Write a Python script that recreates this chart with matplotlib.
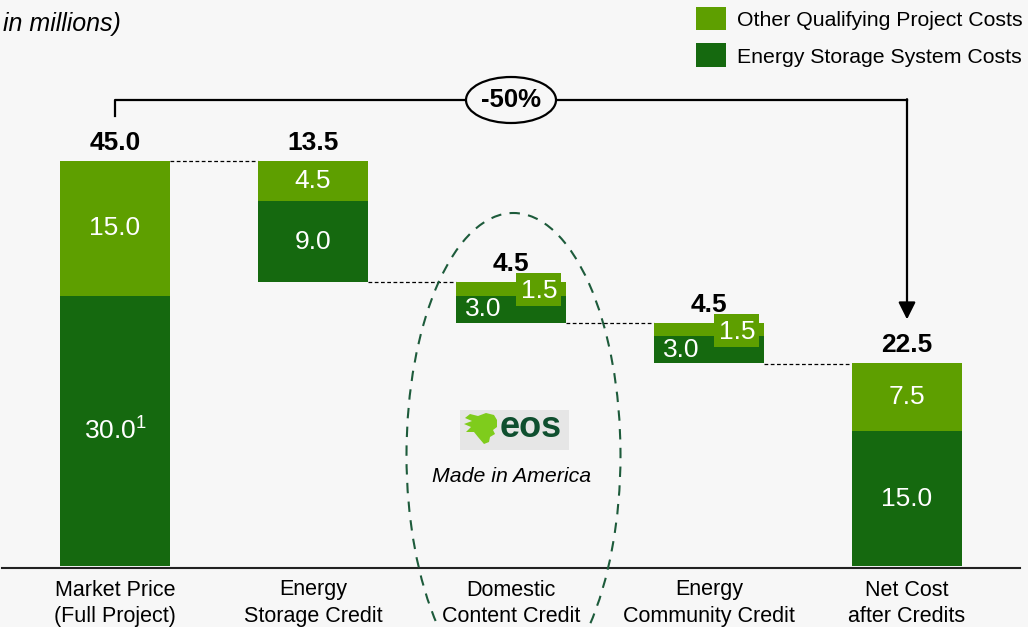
import matplotlib.pyplot as plt
from matplotlib.patches import Rectangle, Ellipse, Polygon

plt.rcParams['font.family'] = ['Liberation Sans', 'DejaVu Sans']
plt.rcParams['mathtext.default'] = 'regular'

# data (USD millions)
categories = ["Market Price\n(Full Project)", "Energy\nStorage Credit", "Domestic\nContent Credit",
              "Energy\nCommunity Credit", "Net Cost\nafter Credits"]
storage_costs = [30.0, 9.0, 3.0, 3.0, 15.0]
other_costs = [15.0, 4.5, 1.5, 1.5, 7.5]
kinds = ["total", "decrease", "decrease", "decrease", "total"]
storage_labels = ["30.0$^1$", "9.0", "3.0", "3.0", "15.0"]
other_labels = ["15.0", "4.5", "1.5", "1.5", "7.5"]
change_label = "-50%"

light = '#5E9F00'
dark = '#15690F'
bg = '#F7F7F7'

fig = plt.figure(figsize=(10.28, 6.27), dpi=100, facecolor=bg)
ax = fig.add_axes([0, 0, 1, 1])
ax.set_facecolor(bg)
# pixel mapping: bar centers 198px apart starting at x=115, 9px per million, baseline y=566
ax.set_xlim(-115 / 198, (1028 - 115) / 198)
ax.set_ylim((566 - 627) / 9, 566 / 9)
ax.axis('off')


def px(x, y):
    # pixel position (from top-left) -> data coords, for decorations
    return (x - 115) / 198, (566 - y) / 9


w = 0.556
# waterfall bottoms
totals = [s + o for s, o in zip(storage_costs, other_costs)]
bottoms = []
level = 0
for t, k in zip(totals, kinds):
    if k == "total":
        bottoms.append(0)
        level = t
    else:
        level -= t
        bottoms.append(level)
tops = [b + t for b, t in zip(bottoms, totals)]
xs = list(range(len(categories)))

ax.bar(xs, storage_costs, w, bottom=bottoms, color=dark, zorder=3)
ax.bar(xs, other_costs, w, bottom=[b + s for b, s in zip(bottoms, storage_costs)], color=light, zorder=3)

# baseline
ax.plot([-0.57, 4.57], [-0.2, -0.2], color='#222222', lw=1.5, zorder=2)

# connectors
for i in range(len(xs) - 1):
    ax.plot([i + w / 2, i + 1 - w / 2], [tops[i + 1], tops[i + 1]], color='black',
            lw=0.9, ls=(0, (3, 2)), zorder=2)

# labels
vfs = 19
for i in xs:
    ax.text(i, tops[i] + 2.0, f"{totals[i]:.1f}", ha='center', va='center',
            fontsize=vfs, fontweight='bold', zorder=5)
    if kinds[i] == "total" or other_costs[i] > 2:
        ax.text(i, bottoms[i] + storage_costs[i] / 2, storage_labels[i], ha='center', va='center',
                fontsize=vfs, color='white', zorder=5)
        ax.text(i, bottoms[i] + storage_costs[i] + other_costs[i] / 2, other_labels[i],
                ha='center', va='center', fontsize=vfs, color='white', zorder=5)
    else:
        ax.text(i - 0.139, bottoms[i] + storage_costs[i] / 2, storage_labels[i], ha='center',
                va='center', fontsize=vfs, color='white', zorder=5)
        ax.add_patch(Rectangle((i + 0.027, tops[i] - 2.65), 0.225, 3.65, facecolor=light,
                               edgecolor='none', zorder=4))
        ax.text(i + 0.141, tops[i] - 0.95, other_labels[i], ha='center', va='center',
                fontsize=vfs, color='white', zorder=5)

# category labels
for i, c in enumerate(categories):
    ax.text(i, -1.5, c, ha='center', va='top', fontsize=15.5, linespacing=1.32)

# bracket with -50%
yb = px(0, 100)[1]
ax.plot([xs[0], xs[0], xs[-1]], [tops[0] + 5.0, yb, yb], color='black', lw=1.6, zorder=4)
ax.annotate('', xy=(xs[-1], tops[-1] + 4.9), xytext=(xs[-1], yb + 0.09),
            arrowprops=dict(arrowstyle='-|>', mutation_scale=26, lw=1.6, color='black',
                            shrinkA=0, shrinkB=0), zorder=4)
ax.add_patch(Ellipse((2, yb), 90 / 198, 46 / 9, facecolor=bg, edgecolor='black', lw=1.6, zorder=5))
ax.text(2, yb, change_label, ha='center', va='center', fontsize=18.5, fontweight='bold', zorder=6)

# dashed ellipse around domestic content
ax.add_patch(Ellipse(px(513.5, 455), 214 / 198, 484 / 9, facecolor='none', edgecolor='#1D5B3B',
                     lw=1.5, ls=(0, (5, 4)), zorder=6, clip_on=False))

# eos logo
x0, y0 = px(460, 450)
ax.add_patch(Rectangle((x0, y0), 109 / 198, 40 / 9, facecolor='#E6E6E6', edgecolor='none', zorder=3))
hair = [(497, 420), (494, 415), (486, 413), (478, 416), (470, 414), (465, 418), (472, 421),
        (464, 424), (471, 427), (466, 432), (474, 432), (478, 437), (484, 444), (489, 442),
        (490, 437), (495, 434), (493, 430), (497, 427)]
ax.add_patch(Polygon([px(x, y) for x, y in hair], closed=True, facecolor='#7FCC1C',
                     edgecolor='none', zorder=4))
ax.text(*px(531, 428), "eos", ha='center', va='center', fontsize=26, fontweight='bold',
        color='#0F4F2F', zorder=4)
ax.text(*px(512, 476), "Made in America", ha='center', va='center', fontsize=15.3,
        style='italic', zorder=4)

# title fragment
fig.text(3 / 1028, 1 - 24 / 627, "in millions)", ha='left', va='center', fontsize=18, style='italic')

# legend
for yy, col, lab in [(19, light, "Other Qualifying Project Costs"),
                     (55.5, dark, "Energy Storage System Costs")]:
    fig.patches.append(Rectangle((696 / 1028, 1 - (yy + 11) / 627), 30 / 1028, 23 / 627,
                                 facecolor=col, edgecolor='none', transform=fig.transFigure))
    fig.text(737 / 1028, 1 - (yy + 2) / 627, lab, ha='left', va='center', fontsize=15.3)

fig.savefig('out.png', dpi=100, facecolor=bg)
